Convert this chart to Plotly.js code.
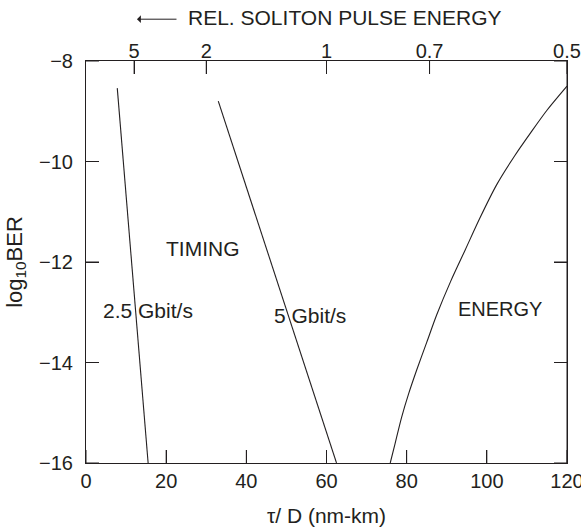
<!DOCTYPE html>
<html>
<head>
<meta charset="utf-8">
<script src="https://cdn.plot.ly/plotly-3.0.1.min.js"></script>
<style>html,body{margin:0;padding:0;background:#fff;overflow:hidden;}#chart{width:581px;height:528px;}</style>
</head>
<body>
<div id="chart"></div>
<script>
// 2.5 Gbit/s timing-jitter limit
const timing25X = [7.8, 15.5];
const timing25Y = [-8.54, -16];
// 5 Gbit/s timing-jitter limit
const timing5X = [33.0, 62.5];
const timing5Y = [-8.8, -16];
// Energy (amplifier-noise) limit
const energyX = [75.9, 77, 78.7, 80.5, 82.5, 85, 87.5, 91, 94.6, 98.3, 102.4, 107, 111, 115, 120];
const energyY = [-16, -15.65, -15.1, -14.62, -14.15, -13.6, -13.05, -12.38, -11.76, -11.12, -10.47, -9.88, -9.42, -8.98, -8.5];
// axis ticks
const xTicks = [0, 20, 40, 60, 80, 100, 120];
const yTicks = [-8, -10, -12, -14, -16];
// top axis: relative soliton pulse energy (tau/D = 60 / E)
const relEnergy = [5, 2, 1, 0.7, 0.5];
const relEnergyLabels = ['5', '2', '1', '0.7', '0.5'];
const tauDAtUnitEnergy = 60;
const topTickPos = relEnergy.map(e => tauDAtUnitEnergy / e);

const FONT = 'Liberation Sans, Arial, Helvetica, sans-serif';
const INK = '#231f20';
const FS = 20;
const TL = 13;

const traces = [
  {x: timing25X, y: timing25Y, mode: 'lines', line: {color: INK, width: 1.1}, hoverinfo: 'skip'},
  {x: timing5X, y: timing5Y, mode: 'lines', line: {color: INK, width: 1.1}, hoverinfo: 'skip'},
  {x: energyX, y: energyY, mode: 'lines', line: {color: INK, width: 1.1, shape: 'spline', smoothing: 0.8}, hoverinfo: 'skip'},
  {x: topTickPos, y: topTickPos.map(() => null), xaxis: 'x2', yaxis: 'y', mode: 'lines', hoverinfo: 'skip'}
];

// tick marks pointing into the plot (also drawn as shapes so they always show, corners included)
const tickLine = {color: INK, width: 1};
const shapes = [];
xTicks.forEach(v => shapes.push({type: 'line', xref: 'x', yref: 'paper', ysizemode: 'pixel', yanchor: 0, x0: v, x1: v, y0: 0, y1: TL, line: tickLine}));
topTickPos.forEach(v => shapes.push({type: 'line', xref: 'x2', yref: 'paper', ysizemode: 'pixel', yanchor: 1, x0: v, x1: v, y0: -TL, y1: 0, line: tickLine}));
yTicks.forEach(v => {
  shapes.push({type: 'line', yref: 'y', xref: 'paper', xsizemode: 'pixel', xanchor: 0, y0: v, y1: v, x0: 0, x1: TL, line: tickLine});
  shapes.push({type: 'line', yref: 'y', xref: 'paper', xsizemode: 'pixel', xanchor: 1, y0: v, y1: v, x0: -TL, x1: 0, line: tickLine});
});
shapes.push({type: 'line', xref: 'paper', yref: 'paper', x0: 1, x1: 1, y0: 0, y1: 1, line: tickLine});

const layout = {
  width: 581, height: 528,
  margin: {l: 86, r: 14, t: 61, b: 65},
  showlegend: false,
  font: {family: FONT, size: FS, color: INK},
  xaxis: {
    range: [0, 120], tickvals: xTicks, ticktext: xTicks.map(String),
    ticks: 'inside', ticklen: TL, tickwidth: 1, tickcolor: INK,
    showline: true, linecolor: INK, mirror: true,
    showgrid: false, zeroline: false, ticklabeloverflow: 'allow',
    tickfont: {family: FONT, size: FS, color: INK},
    title: {text: 'τ/ D (nm-km)', font: {family: FONT, size: 21, color: INK}, standoff: 17}
  },
  xaxis2: {
    overlaying: 'x', side: 'top', anchor: 'y', range: [0, 120],
    tickvals: topTickPos, ticktext: relEnergyLabels,
    ticks: 'inside', ticklen: TL, tickwidth: 1, tickcolor: INK,
    showline: false, showgrid: false, zeroline: false, ticklabeloverflow: 'allow',
    ticklabelstandoff: -2,
    tickfont: {family: FONT, size: FS, color: INK}
  },
  yaxis: {
    range: [-16, -8], tickvals: yTicks, ticktext: yTicks.map(v => '\u2212' + Math.abs(v)),
    ticks: 'inside', ticklen: TL, tickwidth: 1, tickcolor: INK,
    showline: true, linecolor: INK, mirror: 'ticks',
    showgrid: false, zeroline: false, ticklabelstandoff: 8,
    tickfont: {family: FONT, size: FS, color: INK},
    title: {text: 'log<sub>10</sub>BER', font: {family: FONT, size: 22, color: INK}, standoff: 10}
  },
  shapes: shapes,
  annotations: [
    {x: 29.1, y: -11.73, xref: 'x', yref: 'y', text: 'TIMING', showarrow: false, font: {family: FONT, size: 21, color: INK}},
    {x: 15.4, y: -12.96, xref: 'x', yref: 'y', text: '2.5 Gbit/s', showarrow: false, font: {family: FONT, size: 21, color: INK}},
    {x: 55.9, y: -13.06, xref: 'x', yref: 'y', text: '5 Gbit/s', showarrow: false, font: {family: FONT, size: 21, color: INK}},
    {x: 103.3, y: -12.94, xref: 'x', yref: 'y', text: 'ENERGY', showarrow: false, font: {family: FONT, size: 20, color: INK}},
    {x: 0.5385, y: 1.108, xref: 'paper', yref: 'paper', xanchor: 'center', yanchor: 'middle', text: 'REL. SOLITON PULSE ENERGY', showarrow: false, font: {family: FONT, size: 21, color: INK}},
    {x: 0.106, y: 1.104, xref: 'paper', yref: 'paper', text: '', showarrow: true, ax: 41, ay: 0,
     arrowhead: 1, arrowsize: 1.3, arrowwidth: 1, arrowcolor: INK}
  ]
};

Plotly.newPlot('chart', traces, layout, {displayModeBar: false, staticPlot: true});
</script>
</body>
</html>
